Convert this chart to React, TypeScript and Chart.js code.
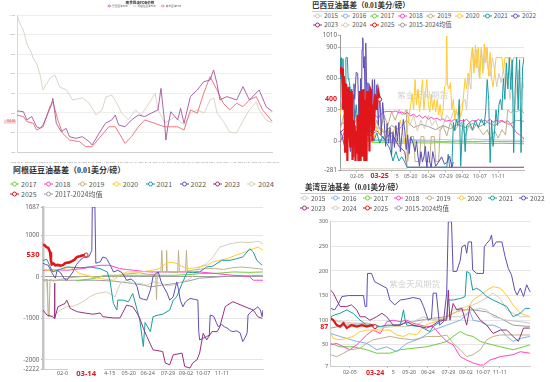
import React, { useEffect, useRef } from 'react';
import { Chart, registerables } from 'chart.js';
Chart.register(...registerables);

type P = [number, number];

const FONT_CJK = '"Noto Sans CJK SC", "Noto Sans", sans-serif';
const FONT_TICK = '"Noto Sans", "Noto Sans CJK SC", sans-serif';
const FONT_TITLE = '"Liberation Serif", "Noto Sans CJK SC", serif';

// ---------------- Top-left chart (FOB prices) ----------------
const tlTitle = '南美豆油FOB价格';
const tlNames = ['巴西豆油FOB', '阿根廷豆油FOB', '美湾豆油FOB'];
const tlYTicks = [400, 500, 600, 700, 800, 900, 1000, 1100];
const tlXTickIdx = [0, 29, 58, 87, 116, 144, 173, 202, 231, 260, 289, 318, 347, 376, 404, 433, 462, 491, 520];
const tlXLabels = ['2023-03-01', '2023-04-12', '2023-05-24', '2023-07-05', '2023-08-16', '2023-09-27', '2023-11-08', '2023-12-20', '2024-01-31', '2024-03-13', '2024-04-24', '2024-06-05', '2024-07-17', '2024-08-28', '2024-10-09', '2024-11-20', '2025-01-01', '2025-02-12', '2025-03-26'];
const tlPurple: P[] = [[0,610],[13,606],[20,564],[30,581],[40,529],[47,521],[53,538],[63,598],[70,640],[73,674],[80,547],[90,504],[100,521],[107,478],[120,470],[133,478],[147,453],[153,436],[167,495],[180,547],[193,564],[200,589],[207,538],[220,529],[233,564],[247,589],[260,581],[273,598],[287,615],[293,725],[300,564],[303,461],[307,529],[313,606],[327,564],[333,623],[340,547],[353,683],[367,717],[380,759],[393,768],[400,819],[407,751],[413,666],[427,683],[447,666],[460,734],[473,666],[493,717],[507,632],[520,606]];
const tlBeige: P[] = [[0,1100],[7,1049],[13,1023],[21,946],[27,921],[33,880],[41,845],[47,794],[53,717],[67,778],[77,794],[87,732],[101,717],[113,666],[133,676],[147,650],[161,589],[173,615],[181,681],[193,691],[203,650],[213,599],[227,564],[241,615],[253,589],[273,666],[281,701],[287,615],[301,548],[321,579],[341,538],[353,599],[367,615],[381,599],[393,666],[401,676],[407,599],[421,553],[433,502],[447,497],[461,564],[473,615],[487,655],[493,615],[507,564],[520,548]];
const tlRed: P[] = [[0,589],[13,581],[20,555],[33,547],[40,512],[53,529],[67,632],[73,657],[83,564],[93,495],[107,461],[127,453],[140,427],[153,427],[167,470],[187,529],[200,529],[220,444],[233,478],[247,529],[260,564],[280,547],[300,529],[313,529],[327,529],[340,512],[353,615],[367,598],[380,700],[393,785],[407,717],[420,649],[433,615],[447,649],[460,632],[473,666],[487,683],[500,615],[520,555]];

// ---------------- Brazil basis ----------------
const brTitle = '巴西豆油基差（0.01美分/磅）';
const brYTicks = [-281, 0, 300, 600, 900, 1010];
const brXTickIdx = [23, 70.6, 96, 120, 144, 166, 190, 215];
const brXLabels = ['02-05', '04-15', '05-20', '06-24', '07-29', '09-02', '10-07', '11-11'];
const brLastDate = '03-25';
const br2015: P[] = [[0,30],[20,40],[40,20],[60,15],[80,20],[100,15],[120,10],[140,15],[160,10],[180,20],[200,15],[220,10],[250,10]];
const br2016: P[] = [[0,40],[20,20],[40,10],[60,5],[80,0],[100,5],[120,0],[140,-5],[160,0],[180,-5],[200,0],[220,-5],[250,-5]];
const br2017: P[] = [[0,20],[10,0],[20,-10],[30,30],[40,0],[45,-15],[60,-10],[80,-20],[100,-15],[120,-18],[140,-15],[160,-20],[180,-18],[200,-22],[220,-20],[250,-25]];
const br2018: P[] = [[0,-15],[4,50],[8,150],[12,200],[16,210],[20,180],[24,220],[28,150],[32,200],[36,170],[40,230],[44,180],[48,250],[52,220],[56,260],[60,280],[64,285],[68,285],[72,280],[76,290],[80,270],[84,280],[88,260],[92,275],[96,240],[100,260],[104,230],[108,250],[112,220],[116,240],[120,210],[124,230],[128,210],[132,220],[136,200],[140,215],[144,190],[148,200],[152,190],[156,210],[160,180],[164,200],[168,190],[172,210],[176,180],[180,200],[184,190],[188,210],[192,185],[196,200],[200,190],[204,210],[208,180],[212,200],[216,190],[220,200],[224,180],[228,195],[232,160],[236,120],[240,80],[244,60],[248,40],[250,17]];
const br2019: P[] = [[0,100],[5,250],[10,50],[15,150],[20,300],[25,100],[30,200],[35,50],[40,150],[45,80],[50,200],[55,100],[60,250],[65,150],[70,280],[75,200],[80,300],[85,250],[90,300],[92,-195],[96,45],[100,45],[102,-195],[108,-195],[110,45],[114,45],[116,-195],[122,-195],[124,45],[128,45],[130,-195],[134,-195],[136,100],[140,150],[145,50],[150,180],[155,100],[160,140],[165,180],[170,45],[175,150],[180,100],[185,160],[190,110],[195,60],[200,110],[205,15],[210,100],[215,30],[220,110],[225,60],[228,300],[232,270],[236,300],[240,280],[245,300],[250,270]];
const br2020: P[] = [[0,250],[3,370],[5,300],[8,240],[10,350],[12,260],[15,300],[18,200],[20,250],[23,240],[26,150],[30,120],[34,60],[38,140],[42,100],[46,20],[50,140],[54,60],[58,120],[62,15],[66,100],[70,40],[74,120],[78,50],[82,200],[86,60],[90,-80],[92,150],[95,300],[98,450],[100,300],[102,590],[104,350],[106,500],[108,280],[110,400],[112,590],[114,300],[116,450],[118,590],[120,350],[122,280],[124,450],[126,300],[128,400],[130,280],[132,400],[134,250],[136,350],[138,210],[140,300],[142,520],[144,540],[145,1010],[146,540],[148,500],[150,560],[152,300],[154,400],[156,210],[158,300],[160,250],[162,350],[164,230],[166,300],[168,450],[170,600],[172,500],[174,650],[176,590],[178,800],[180,900],[182,650],[184,920],[186,700],[188,900],[190,600],[192,880],[194,650],[196,930],[198,750],[200,900],[202,620],[204,850],[206,600],[208,520],[210,650],[212,800],[220,800],[222,650],[224,800],[232,800],[234,700],[236,800],[250,800]];
const br2021: P[] = [[0,790],[1,600],[2,800],[3,550],[4,790],[5,600],[6,620],[7,500],[8,800],[10,800],[11,600],[12,590],[14,500],[16,300],[18,450],[20,200],[22,350],[24,180],[26,400],[28,250],[30,150],[32,300],[34,120],[36,200],[38,50],[42,100],[46,0],[50,80],[54,-20],[58,50],[62,0],[66,-50],[68,-80],[72,-190],[76,-100],[80,-190],[84,-150],[88,-200],[91,-250],[145,-250],[147,-125],[149,-250],[152,-250],[154,180],[156,100],[158,210],[160,150],[162,400],[164,-240],[166,100],[168,210],[170,-100],[172,150],[176,180],[180,110],[184,200],[188,130],[192,210],[196,150],[198,300],[200,590],[202,400],[204,-205],[206,200],[208,-50],[210,100],[212,300],[214,150],[216,350],[218,400],[220,300],[222,600],[224,400],[226,750],[228,500],[230,800],[232,495],[234,780],[236,-110],[238,500],[240,800],[242,300],[244,780],[246,-110],[248,700],[250,800]];
const br2022: P[] = [[0,100],[3,50],[6,-50],[9,150],[12,300],[14,-100],[16,500],[17,250],[18,-150],[19,550],[20,400],[22,660],[24,650],[26,200],[27,-160],[28,600],[29,300],[30,880],[31,990],[32,700],[33,810],[34,400],[35,940],[36,600],[37,300],[38,560],[40,150],[41,350],[42,200],[44,590],[45,280],[47,590],[48,300],[50,540],[51,380],[52,150],[54,430],[55,300],[56,60],[58,370],[60,200],[62,-50],[64,170],[66,-20],[68,130],[70,-140],[72,90],[74,-60],[76,150],[78,0],[80,180],[82,-100],[84,50],[86,207],[88,100],[90,-80],[92,60],[94,-120],[96,40],[99,-12],[102,-100],[104,0],[106,-150],[108,-240],[110,-100],[112,-200],[114,-150],[116,-50],[118,-250],[120,-100],[122,-200],[124,-250],[126,-100],[130,-240],[134,-200],[138,-150],[142,-220],[145,-205],[149,-145],[152,-250],[154,-200]];
const br2023: P[] = [[0,80],[10,150],[20,60],[30,120],[40,50],[50,100],[60,20],[70,80],[80,-50],[88,-100],[91,-250],[250,-250]];
const br2024: P[] = [[0,-265],[90,-265],[91,300],[95,150],[100,250],[105,100],[110,200],[115,120],[120,250],[125,150],[130,200],[135,100],[140,150],[145,250],[150,200],[155,300],[160,250],[165,350],[170,400],[172,300],[175,600],[178,500],[180,900],[183,700],[186,880],[189,620],[192,900],[195,680],[198,900],[201,700],[204,620],[207,800],[210,690],[213,520],[216,650],[219,560],[222,690],[225,520],[228,650],[231,400],[234,550],[237,300],[240,500],[243,680],[246,400],[248,600],[250,500]];
const br2025: P[] = [[0,650],[1,700],[3,690],[4,300],[5,620],[6,560],[7,-100],[8,550],[9,500],[10,-190],[11,450],[12,520],[13,100],[14,-60],[15,480],[16,300],[17,-180],[18,200],[19,-20],[20,150],[21,-190],[22,100],[23,-120],[24,250],[25,-190],[26,-100],[27,480],[28,-190],[29,300],[30,490],[31,-150],[32,500],[33,-190],[34,200],[35,400],[36,-190],[37,480],[38,100],[39,350],[40,-100],[41,500],[42,480],[43,300],[44,0],[45,350],[46,100],[48,450],[50,300],[52,480],[54,400]];
const brAvg: P[] = [[0,150],[10,200],[20,120],[30,180],[40,100],[50,140],[60,80],[70,150],[80,110],[90,200],[100,130],[110,160],[120,140],[130,110],[140,150],[150,120],[160,160],[170,130],[180,170],[190,140],[200,180],[210,150],[220,190],[230,160],[240,200],[250,190]];

// ---------------- Argentina basis ----------------
const arTitle = '阿根廷豆油基差（0.01美分/磅）';
const arYTicks = [-2222, -2000, -1000, 0, 1000, 1687];
const arXTickIdx = [24, 74, 97.5, 119, 142, 162.5, 182, 203.4];
const arXLabels = ['02-05', '04-15', '05-20', '06-24', '07-29', '09-02', '10-07', '11-11'];
const arLastDate = '03-14';
const ar2017: P[] = [[38,-100],[42,-80],[50,-60],[57,-40],[65,0],[72,40],[90,40],[110,40],[130,40],[150,40],[170,60],[178,80],[200,90],[216,120],[235,110],[250,120]];
const ar2018: P[] = [[0,160],[15,170],[27,160],[40,190],[46,200],[55,250],[65,280],[76,280],[87,200],[95,180],[103,160],[115,130],[122,120],[140,120],[160,120],[178,120],[197,80],[216,40],[230,20],[235,0],[239,-80],[250,-80]];
const ar2019: P[] = [[0,-80],[5,-60],[6,-960],[7,-960],[8,-60],[12,-100],[20,-60],[30,-20],[40,0],[50,20],[60,-20],[70,40],[80,0],[90,60],[100,80],[110,100],[120,60],[128,60],[129,-550],[130,120],[134,120],[135,640],[136,120],[140,120],[140.5,640],[141,120],[153,100],[154,640],[155,120],[162,140],[163,640],[164,140],[175,180],[185,200],[195,200],[205,180],[215,220],[225,240],[235,220],[245,200],[250,180]];
const ar2020: P[] = [[0,200],[5,150],[12,160],[20,180],[31,240],[42,80],[57,0],[65,-40],[80,-80],[87,40],[95,120],[110,120],[122,150],[132,200],[140,330],[144,360],[151,330],[163,200],[174,220],[186,280],[193,360],[209,440],[224,560],[239,680],[245,720],[250,640]];
const ar2021: P[] = [[0,400],[4.5,420],[11,120],[27,240],[42,220],[53,240],[65,200],[73,120],[76,-80],[80,-640],[84,-800],[85,-560],[91,-560],[97,-600],[102,-400],[107,-800],[110,-1040],[114,-1680],[116,-1100],[122,-1320],[125,-960],[131,-920],[136,-900],[144,-800],[148,-560],[152,-480],[158,-160],[164,120],[170,100],[178,120],[186,240],[193,260],[203,400],[212.5,400],[220,440],[227,480],[235,680],[239,600],[243,400],[249,280]];
const ar2022: P[] = [[0,330],[3,300],[6,280],[10,100],[14,-30],[16,160],[20,100],[24,-40],[27,-80],[30,0],[34,120],[38,300],[42,400],[46,470],[52,480],[55.5,640],[56,1687],[59,1687],[60,330],[63,350],[65,360],[68,480],[72,450],[76,300],[80,120],[85,160],[90,100],[95,-80],[100,-50],[104,-120],[107,-240],[110,-510],[114,-540],[118,-560],[122,-320],[125,0],[128,80],[131,120],[134,-100],[136,-200],[141,-390],[144,-560],[148,-480],[152,-120],[154,-300],[156,-560],[159,-720],[162,-600],[167,-520],[172,-540],[176,-560],[177,-1320],[178,-1520],[182,-1480],[186,-1440],[189,-1400],[190,-920],[194,-950],[197,-1100],[199,-1200],[203,-1150],[206,-1200],[209,-1230],[213,-1300],[216,-1320],[220,-1300],[224,-1350],[227,-1560],[230,-1450],[232,-1350],[233,-920],[236,-850],[239,-800],[242,-760],[244,-720],[247,-800],[249,-960],[250,-800]];
const ar2023: P[] = [[0,-800],[4.5,-920],[11,-960],[12.5,-1000],[13,-150],[13.6,-1000],[17,-720],[25,-640],[27,-560],[31,-760],[39,-840],[50,-880],[57,-900],[65,-870],[68,-960],[80,-990],[87.5,-990],[95,-680],[102,-720],[107,-880],[110,-1000],[114,-1240],[118,-1440],[125,-1760],[136,-1800],[139,-2080],[144,-2120],[148,-1880],[158,-1840],[161,-2160],[167,-2200],[170,-2080],[175,-2000],[178,-1840],[182,-1360],[186,-1520],[192,-1320],[198,-1320],[201,-1200],[207,-720],[212.5,-640],[216,-600],[229.5,-720],[239,-800],[244,-960],[249,-1000]];
const ar2024: P[] = [[0,-100],[4,-120],[6,-900],[10,-950],[14,-900],[20,-800],[27,-720],[35,-700],[42,-640],[48,-560],[53,-480],[61,-400],[67,-380],[72,-360],[77,-420],[82,-480],[85,-300],[88,-160],[95,-80],[103,-160],[110,-150],[118,-200],[126,-120],[134,-160],[142,-220],[150,-180],[158,-120],[166,-60],[172,60],[178,240],[186,320],[193,480],[197,600],[201,720],[207,760],[212,800],[218,820],[224,840],[232,830],[239,840],[245,860],[250,800]];
const ar2025: P[] = [[0,780],[2,760],[4,720],[6,700],[7,650],[8,600],[9,400],[10,300],[12,320],[14,280],[17,290],[20,270],[23,290],[25,330],[27,340],[30,350],[33,380],[36,420],[38,470],[40,490],[42,500],[45,520],[49,530]];
const arAvg: P[] = [[0,-80],[20,-80],[40,-80],[60,-80],[80,-100],[102,-160],[115,-200],[122,-240],[135,-200],[150,-160],[165,-100],[178,-30],[200,0],[216,20],[235,30],[250,40]];

// ---------------- US Gulf basis ----------------
const usTitle = '美湾豆油基差（0.01美分/磅）';
const usYTicks = [7, 50, 100, 150, 200, 250, 300];
const usXTickIdx = [24, 71.6, 98, 121.6, 147, 169, 190.4, 211.6];
const usXLabels = ['02-05', '04-15', '05-20', '06-24', '07-29', '09-02', '10-07', '11-11'];
const usLastDate = '03-24';
const us2015: P[] = [[0,100],[20,94],[45,94],[62,87],[78,90],[103,97],[116,107],[132.5,97],[145,107],[162,107],[178,121],[187,124],[195,121],[203,107],[220,100],[237,97],[249,94]];
const us2016: P[] = [[0,73],[11.7,67],[20,63],[32.5,57],[45,53],[57.5,40],[70,46],[82.5,36],[95,53],[112,63],[128,80],[145,90],[162,100],[174,117],[178,100],[187,97],[195,90],[203,90],[212,84],[220,67],[228,57],[237,63],[249,67]];
const us2017: P[] = [[0,53],[11.7,46],[28,46],[45,40],[57.5,33],[74,33],[87,40],[103,43],[120,46],[137,53],[145,57],[153,67],[162,77],[170,70],[178,67],[187,57],[195,53],[212,46],[228,40],[241,46],[249,50]];
const us2018: P[] = [[0,50],[7.5,53],[16,46],[24,40],[32.5,50],[45,70],[53,80],[62,73],[70,97],[78,100],[87,97],[95,100],[103,94],[112,90],[120,87],[128,87],[137,70],[145,57],[153,50],[162,26],[170,19],[178,13],[187,9],[191,9],[199,19],[212,26],[228,30],[237,36],[249,33]];
const us2019: P[] = [[0,30],[7.5,26],[16,33],[24,40],[36.7,43],[45,53],[53,60],[62,63],[74,67],[87,63],[103,60],[120,67],[137,67],[145,70],[153,53],[162,40],[170,26],[178,30],[187,40],[195,60],[203,67],[212,70],[228,70],[249,70]];
const us2020: P[] = [[0,73],[3.3,63],[11.7,60],[20,63],[28,67],[36.7,77],[45,80],[62,80],[74,80],[82.5,70],[91,67],[99,73],[107.5,70],[116,87],[124,94],[132.5,97],[141,107],[149,111],[157.5,117],[170,121],[178,141],[187,151],[195,161],[203,168],[212,165],[220,151],[228,131],[237,114],[249,107]];
const us2021: P[] = [[0,107],[5.4,111],[11.7,114],[20,121],[28,114],[36.7,100],[45,90],[53,90],[62,87],[70,90],[87,90],[91,121],[93,100],[95,90],[112,87],[120,80],[124,77],[128,87],[137,97],[145,104],[147,141],[153,141],[162,144],[168,148],[170,199],[174,195],[177.5,161],[182.5,165],[189,158],[195,148],[203,141],[212,134],[220,128],[228,107],[237,114],[243,124],[249,124]];
const us2022: P[] = [[0,124],[5,121],[10,134],[14,148],[22,150],[41,150],[43,128],[45,128],[46,195],[51,195],[55,178],[62,172],[70,165],[74,141],[80,131],[87,141],[95,143],[103,146],[112,143],[116,128],[122,100],[126,104],[128,155],[132,155],[136,90],[141,97],[145,155],[147,300],[151,300],[153,199],[157.5,199],[162,222],[164,249],[168,253],[170,236],[172,259],[176,259],[177.5,202],[182.5,195],[191,195],[192,249],[195,256],[199,263],[201,273],[203,249],[207,259],[214,259],[218,229],[222,205],[226,192],[230,161],[233,151],[237,165],[241,148],[245,172],[249,158],[250,158]];
const us2023: P[] = [[0,161],[3.3,155],[7.5,141],[11.7,128],[20,128],[26,131],[32.5,121],[36.7,107],[43,107],[49,100],[57.5,107],[64,114],[70,107],[78,90],[87,90],[95,97],[103,90],[112,87],[120,84],[128,90],[137,100],[145,100],[147,161],[149,100],[153,134],[157.5,121],[164,124],[170,90],[174,128],[178,121],[187,100],[195,90],[203,73],[212,80],[220,80],[228,67],[234.6,57],[241,84],[249,84]];
const us2024: P[] = [[0,100],[11.7,98],[28,94],[45,90],[62,84],[78,87],[95,87],[112,94],[120,104],[137,100],[145,107],[153,121],[170,128],[178,131],[187,138],[197,148],[203,155],[212,144],[220,121],[228,114],[237,107],[249,107]];
const us2025: P[] = [[0,104],[3.3,100],[7.5,90],[11.7,87],[16,94],[20,84],[26,90],[32.5,87],[39,90],[45,87],[51,90],[55.4,87]];
const usAvg: P[] = [[0,84],[20,90],[45,94],[62,87],[82.5,90],[112,100],[128,104],[145,107],[162,121],[178,121],[195,117],[212,104],[228,90],[249,87]];

const watermark = '紫金天风期货';

const COLORS: Record<string, string> = {
  '2015': '#c9c9c9', '2016': '#7fb2e5', '2017': '#6ccf3c', '2018': '#ff44c8',
  '2019': '#bfb087', '2020': '#ffc933', '2021': '#1a9ba3', '2022': '#5e4fb6',
  '2023': '#9b2f7d', '2024': '#d8ccb8', '2025': '#e0161b', avg: '#9e9e9e',
};

const brSeries = [
  ['2025', br2025], ['2022', br2022], ['2021', br2021], ['2020', br2020], ['2018', br2018],
  ['2019', br2019], ['2024', br2024], ['2023', br2023], ['2017', br2017], ['2016', br2016], ['2015', br2015], ['avg', brAvg],
] as [string, P[]][];
const arSeries = [
  ['2025', ar2025], ['2022', ar2022], ['2023', ar2023], ['2021', ar2021], ['2020', ar2020],
  ['2019', ar2019], ['2018', ar2018], ['2017', ar2017], ['2024', ar2024], ['avg', arAvg],
] as [string, P[]][];
const usSeries = [
  ['2025', us2025], ['2022', us2022], ['2023', us2023], ['2021', us2021], ['2020', us2020], ['2024', us2024],
  ['2015', us2015], ['2016', us2016], ['2019', us2019], ['2018', us2018], ['2017', us2017], ['avg', usAvg],
] as [string, P[]][];

const brLegend = ['2015', '2016', '2017', '2018', '2019', '2020', '2021', '2022', '2023', '2024', '2025', '2015-2024均值'];
const arLegend = ['2017', '2018', '2019', '2020', '2021', '2022', '2023', '2024', '2025', '2017-2024均值'];
const usLegend = brLegend;

function legendColor(label: string) {
  return label.includes('均值') ? COLORS.avg : COLORS[label];
}

const marksPlugin = {
  id: 'basisMarks',
  beforeDatasetsDraw(chart: any, _a: any, o: any) {
    if (!o || !o.watermark) return;
    const { ctx, chartArea: a } = chart;
    ctx.save();
    ctx.font = `${o.wmSize}px ${FONT_CJK}`;
    ctx.fillStyle = 'rgba(150,150,150,0.45)';
    ctx.textAlign = 'center';
    ctx.textBaseline = 'middle';
    ctx.fillText(o.watermark, a.left + a.width * o.wmX, a.top + a.height * o.wmY);
    ctx.restore();
  },
  afterDraw(chart: any, _a: any, o: any) {
    if (!o || !o.last) return;
    const { ctx, chartArea: a, scales } = chart;
    const [lx, ly] = o.last;
    const px = scales.x.getPixelForValue(lx);
    const py = scales.y.getPixelForValue(ly);
    ctx.save();
    ctx.font = `bold ${o.fs}px ${FONT_TICK}`;
    ctx.textBaseline = 'middle';
    const yt = String(ly);
    const w = ctx.measureText(yt).width;
    const right = a.left - o.yGap;
    ctx.fillStyle = '#fff';
    ctx.fillRect(right - w - 2, py - o.fs * 0.6, w + 3, o.fs * 1.2);
    ctx.fillStyle = '#e0161b';
    ctx.textAlign = 'right';
    ctx.fillText(yt, right, py);
    const xy = a.bottom + o.xOff;
    ctx.fillStyle = '#fff';
    ctx.fillRect(px - o.bgHalf, xy - o.fs * 0.62, o.bgHalf * 2, o.fs * 1.24);
    ctx.fillStyle = '#e0161b';
    ctx.textAlign = 'center';
    ctx.fillText(o.date, px, xy);
    ctx.restore();
  },
};

function makeBasis(canvas: HTMLCanvasElement, c: any) {
  const min = c.yTicks[0];
  const max = c.yTicks[c.yTicks.length - 1];
  return new Chart(canvas, {
    type: 'line',
    data: {
      datasets: c.series.map(([name, data]: [string, P[]]) => ({
        label: name,
        data,
        borderColor: COLORS[name],
        backgroundColor: COLORS[name],
        borderWidth: name === '2025' ? c.redWidth : 1,
        pointRadius: name === '2025' ? (ctx: any) => (ctx.dataIndex === data.length - 1 ? 2 : 0) : 0,
        pointBackgroundColor: '#fff',
        pointBorderColor: COLORS[name],
        pointBorderWidth: 1,
        tension: 0,
        fill: false,
        order: name === '2025' ? -1 : 0,
      })),
    },
    options: {
      responsive: false,
      animation: false,
      devicePixelRatio: 1,
      layout: { padding: c.padding },
      plugins: {
        legend: { display: false },
        tooltip: { enabled: false },
        basisMarks: {
          last: c.series[0][1][c.series[0][1].length - 1],
          date: c.lastDate,
          fs: c.redFs,
          yGap: c.redYGap,
          xOff: c.xTickLen + c.xPad + c.xfs * 0.6,
          bgHalf: c.bgHalf,
          watermark: c.watermark,
          wmSize: 8.5,
          wmX: c.wmX,
          wmY: c.wmY,
        },
      } as any,
      scales: {
        x: {
          type: 'linear',
          min: 0,
          max: 250,
          afterBuildTicks: (s: any) => { s.ticks = c.xTicks.map((v: number) => ({ value: v })); },
          afterFit: (s: any) => { s.height = c.xAxisHeight; },
          ticks: {
            autoSkip: false, maxRotation: 0, padding: c.xPad, color: '#666',
            font: { size: c.xfs, family: FONT_TICK },
            callback: (v: any) => c.xLabels[c.xTicks.indexOf(v)] ?? '',
          },
          grid: { display: true, drawOnChartArea: false, drawTicks: c.xTickLen > 0, tickLength: c.xTickLen, color: '#bbb' },
          border: { display: true, color: c.xBorder, width: 1 },
        },
        y: {
          type: 'linear',
          min, max,
          afterBuildTicks: (s: any) => { s.ticks = c.yTicks.map((v: number) => ({ value: v })); },
          afterFit: (s: any) => { s.width = c.yAxisWidth; },
          ticks: {
            padding: c.yPad, color: '#666',
            font: { size: c.yfs, family: FONT_TICK },
            callback: (v: any) => String(v),
          },
          grid: {
            color: (ctx: any) => {
              const v = ctx.tick ? ctx.tick.value : null;
              if (v === min) return 'rgba(0,0,0,0)';
              if (v === max && c.hideMaxGrid) return 'rgba(0,0,0,0)';
              if (v === 0 && c.zeroDark) return '#a0a0a0';
              return '#e6e6e6';
            },
            drawTicks: c.yTickLen > 0,
            tickLength: c.yTickLen,
            tickColor: '#aaa',
          },
          border: { display: true, color: c.yBorder, width: c.yBorderWidth },
        },
      },
    } as any,
    plugins: [marksPlugin],
  });
}

const tlPlugin = {
  id: 'tlTexts',
  afterDraw(chart: any) {
    const { ctx, chartArea: a, scales } = chart;
    ctx.save();
    ctx.textBaseline = 'middle';
    ctx.textAlign = 'center';
    ctx.fillStyle = '#333';
    ctx.font = `bold 3.6px ${FONT_CJK}`;
    ctx.fillText(tlTitle, chart.width / 2, 2.6);
    ctx.font = `2.6px ${FONT_CJK}`;
    const cols = ['#a4559f', '#d9cfc0', '#ec6a70'];
    const widths = tlNames.map((n) => ctx.measureText(n).width + 6);
    const total = widths.reduce((s, w) => s + w, 0) + 4 * (tlNames.length - 1);
    let x = (a.left + a.right) / 2 - total / 2;
    ctx.textAlign = 'left';
    tlNames.forEach((n, i) => {
      ctx.strokeStyle = cols[i];
      ctx.lineWidth = 0.6;
      ctx.beginPath(); ctx.moveTo(x, 6); ctx.lineTo(x + 4, 6); ctx.stroke();
      ctx.beginPath(); ctx.arc(x + 2, 6, 1, 0, Math.PI * 2); ctx.fillStyle = '#fff'; ctx.fill(); ctx.stroke();
      ctx.fillStyle = '#666';
      ctx.fillText(n, x + 5, 6);
      x += widths[i] + 4;
    });
    const last = tlRed[tlRed.length - 1][1];
    const py = scales.y.getPixelForValue(last);
    ctx.fillStyle = '#f6d0d0';
    ctx.fillRect(a.left - 13, py - 2, 12, 4);
    ctx.fillStyle = '#e23c44';
    ctx.font = `2.6px ${FONT_TICK}`;
    ctx.textAlign = 'right';
    ctx.fillText(last.toFixed(2), a.left - 2, py);
    ctx.restore();
  },
};

function makeTL(canvas: HTMLCanvasElement) {
  const mk = (label: string, data: P[], color: string) => ({
    label, data, borderColor: color, borderWidth: 0.9, pointRadius: 0, tension: 0, fill: false,
  });
  return new Chart(canvas, {
    type: 'line',
    data: { datasets: [mk(tlNames[0], tlPurple, '#a4559f'), mk(tlNames[2], tlRed, '#ec6a70'), mk(tlNames[1], tlBeige, '#d9cfc0')] },
    options: {
      responsive: false, animation: false, devicePixelRatio: 1,
      layout: { padding: { top: 15, right: 3, left: 0, bottom: 0 } },
      plugins: { legend: { display: false }, tooltip: { enabled: false } },
      scales: {
        x: {
          type: 'linear', min: 0, max: 520,
          afterBuildTicks: (s: any) => { s.ticks = tlXTickIdx.map((v) => ({ value: v })); },
          afterFit: (s: any) => { s.height = 13; },
          ticks: { autoSkip: false, maxRotation: 0, padding: 1, color: '#999', font: { size: 2.5, family: FONT_TICK }, callback: (v: any) => tlXLabels[tlXTickIdx.indexOf(v)] ?? '' },
          grid: { display: false },
          border: { display: true, color: '#d0d0d0' },
        },
        y: {
          type: 'linear', min: 400, max: 1100,
          afterBuildTicks: (s: any) => { s.ticks = tlYTicks.map((v) => ({ value: v })); },
          afterFit: (s: any) => { s.width = 17; },
          ticks: { padding: 2, color: '#999', font: { size: 2.5, family: FONT_TICK }, callback: (v: any) => String(v) },
          grid: { color: '#eeeeee', drawTicks: false },
          border: { display: true, color: '#d8d8d8' },
        },
      },
    } as any,
    plugins: [tlPlugin],
  });
}

function Legend({ items, left, top, pitch, rowGap, perRow, fontSize }: any) {
  return (
    <>
      {items.map((label: string, i: number) => {
        const row = Math.floor(i / perRow);
        const col = i % perRow;
        const color = legendColor(label);
        return (
          <div key={label} style={{ position: 'absolute', left: left + col * pitch, top: top + row * rowGap - fontSize * 0.75, height: fontSize * 1.5, display: 'flex', alignItems: 'center', whiteSpace: 'nowrap', fontSize, fontFamily: FONT_CJK, color: '#555', lineHeight: 1 }}>
            <svg width="9" height="6" style={{ marginRight: 2, flex: 'none' }}>
              <line x1="0" y1="3" x2="9" y2="3" stroke={color} strokeWidth="1" />
              <circle cx="4.5" cy="3" r="2" fill="#fff" stroke={color} strokeWidth="1" />
            </svg>
            <span>{label}</span>
          </div>
        );
      })}
    </>
  );
}

function Title({ text, left, top, size }: any) {
  return (
    <div style={{ position: 'absolute', left, top: top - size * 0.7, height: size * 1.4, display: 'flex', alignItems: 'center', whiteSpace: 'nowrap', fontFamily: FONT_TITLE, fontWeight: 700, fontSize: size, color: '#333', lineHeight: 1 }}>{text}</div>
  );
}

export default function App() {
  const tlRef = useRef<HTMLCanvasElement>(null);
  const brRef = useRef<HTMLCanvasElement>(null);
  const arRef = useRef<HTMLCanvasElement>(null);
  const usRef = useRef<HTMLCanvasElement>(null);

  useEffect(() => {
    document.body.style.margin = '0';
    const charts = [
      makeTL(tlRef.current!),
      makeBasis(brRef.current!, {
        series: brSeries, yTicks: brYTicks, xTicks: brXTickIdx, xLabels: brXLabels, lastDate: brLastDate,
        padding: { top: 5.7, right: 6, left: 0, bottom: 0 }, yAxisWidth: 40, xAxisHeight: 9.5,
        xfs: 5.2, yfs: 6.3, xPad: 0.5, xTickLen: 2, yPad: 1, yTickLen: 2, redFs: 7, redYGap: 3, bgHalf: 15, redWidth: 2.2,
        xBorder: '#bbb', yBorder: '#999', yBorderWidth: 1, hideMaxGrid: true, zeroDark: false,
        watermark, wmX: 0.45, wmY: 0.44,
      }),
      makeBasis(arRef.current!, {
        series: arSeries, yTicks: arYTicks, xTicks: arXTickIdx, xLabels: arXLabels, lastDate: arLastDate,
        padding: { top: 7, right: 7, left: 0, bottom: 0 }, yAxisWidth: 33, xAxisHeight: 13,
        xfs: 5.5, yfs: 6.2, xPad: 1.5, xTickLen: 0, yPad: 1.7, yTickLen: 2, redFs: 7.6, redYGap: 3.5, bgHalf: 18, redWidth: 2.6,
        xBorder: '#ccc', yBorder: '#c4c4c4', yBorderWidth: 2.5, hideMaxGrid: false, zeroDark: true,
        watermark: '', wmX: 0.5, wmY: 0.5,
      }),
      makeBasis(usRef.current!, {
        series: usSeries, yTicks: usYTicks, xTicks: usXTickIdx, xLabels: usXLabels, lastDate: usLastDate,
        padding: { top: 6.7, right: 9.3, left: 0, bottom: 0 }, yAxisWidth: 30.7, xAxisHeight: 16,
        xfs: 5.3, yfs: 5.6, xPad: 1.8, xTickLen: 2, yPad: 2.4, yTickLen: 0, redFs: 7, redYGap: 2.4, bgHalf: 17, redWidth: 2.2,
        xBorder: '#ccc', yBorder: '#ccc', yBorderWidth: 1, hideMaxGrid: false, zeroDark: false,
        watermark, wmX: 0.42, wmY: 0.43,
      }),
    ];
    return () => charts.forEach((c) => c.destroy());
  }, []);

  return (
    <div style={{ position: 'fixed', left: 0, top: 0, width: 550, height: 382, background: '#fff', overflow: 'hidden' }}>
      <canvas ref={tlRef} width={280} height={165} style={{ position: 'absolute', left: 0, top: 0, width: 280, height: 165 }} />
      <canvas ref={brRef} width={230} height={150} style={{ position: 'absolute', left: 300, top: 30, width: 230, height: 150 }} />
      <canvas ref={arRef} width={260} height={182} style={{ position: 'absolute', left: 10, top: 200, width: 260, height: 182 }} />
      <canvas ref={usRef} width={240} height={167} style={{ position: 'absolute', left: 300, top: 215, width: 240, height: 167 }} />

      <Title text={brTitle} left={312} top={6} size={7.5} />
      <div style={{ position: 'absolute', left: 312, top: 10.5, width: 220, height: 0, borderTop: '1px solid #d0d0d0' }} />
      <Legend items={brLegend} left={313} top={16} pitch={28.3} rowGap={9} perRow={8} fontSize={6.3} />

      <Title text={arTitle} left={13} top={171} size={8} />
      <Legend items={arLegend} left={10} top={184} pitch={33.9} rowGap={10} perRow={8} fontSize={7} />

      <Title text={usTitle} left={305} top={187.7} size={7.5} />
      <div style={{ position: 'absolute', left: 300, top: 193, width: 243, height: 0, borderTop: '1px solid #d0d0d0' }} />
      <Legend items={usLegend} left={300} top={198.3} pitch={31.3} rowGap={10} perRow={8} fontSize={6.5} />
    </div>
  );
}
